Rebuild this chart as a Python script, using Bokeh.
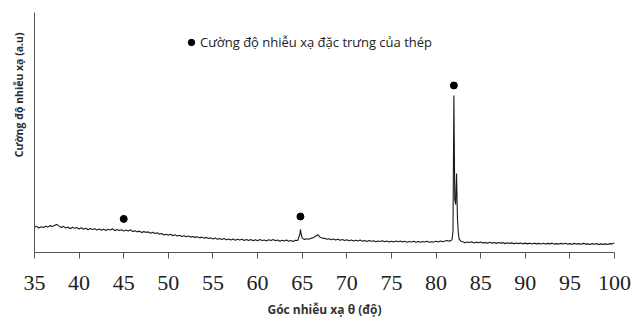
from bokeh.plotting import figure
from bokeh.models import Range1d, FixedTicker, Legend, LegendItem, Title
from bokeh.embed import file_html
from bokeh.resources import INLINE

# ---- data (diffraction scan, 0.25 degree sampling) ----
theta_start = 35.0
theta_step = 0.25
intensity = [
    10.5, 10.9, 10.2, 10.7,   # 35
    10.4, 10.9, 10.6, 11.2,   # 36
    10.8, 11.3, 11.7, 11.0,   # 37
    10.4, 10.9, 10.2, 10.6,   # 38
    9.9, 10.5, 10.1, 10.4,    # 39
    9.8, 10.3, 9.7, 10.1,     # 40
    9.5, 10.0, 9.6, 9.9,      # 41
    9.4, 9.8, 9.3, 9.7,       # 42
    9.2, 9.7, 9.4, 9.9,       # 43
    9.1, 9.6, 9.2, 9.5,       # 44
    8.9, 9.4, 9.0, 9.5,       # 45
    8.7, 9.1, 8.6, 8.9,       # 46
    8.3, 8.7, 8.4, 8.6,       # 47
    8.0, 8.4, 7.9, 8.2,       # 48
    7.6, 7.9, 7.3, 7.6,       # 49
    7.2, 7.6, 7.0, 7.4,       # 50
    6.9, 7.2, 6.7, 7.0,       # 51
    6.6, 6.9, 6.4, 6.7,       # 52
    6.3, 6.6, 6.1, 6.4,       # 53
    5.9, 6.3, 5.8, 6.1,       # 54
    5.6, 6.0, 5.5, 5.8,       # 55
    5.4, 5.8, 5.3, 5.6,       # 56
    5.2, 5.6, 5.1, 5.5,       # 57
    5.2, 5.5, 5.0, 5.4,       # 58
    5.0, 5.4, 4.9, 5.3,       # 59
    4.9, 5.4, 5.0, 5.2,       # 60
    4.8, 5.3, 5.0, 5.4,       # 61
    4.9, 5.2, 4.7, 5.1,       # 62
    4.8, 5.2, 4.7, 5.0,       # 63
    4.6, 5.1, 5.0, 7.8,       # 64
    6.0, 5.4, 5.7, 5.5,       # 65
    5.9, 6.2, 6.8, 7.4,       # 66
    6.4, 6.0, 5.9, 5.5,       # 67
    5.7, 5.3, 5.6, 5.2,       # 68
    5.5, 5.1, 5.4, 5.0,       # 69
    5.3, 4.9, 5.2, 4.8,       # 70
    5.1, 4.8, 5.2, 4.7,       # 71
    5.0, 4.6, 5.0, 4.7,       # 72
    4.9, 4.5, 4.8, 4.6,       # 73
    4.9, 4.5, 4.8, 4.4,       # 74
    4.7, 4.4, 4.8, 4.5,       # 75
    4.8, 4.4, 4.7, 4.3,       # 76
    4.6, 4.4, 4.7, 4.3,       # 77
    4.6, 4.3, 4.6, 4.4,       # 78
    4.7, 4.3, 4.5, 4.4,       # 79
    4.7, 4.4, 4.8, 4.5,       # 80
    4.8, 5.0, 4.7, 5.2,       # 81
    65.4, 27.0, 8.0, 4.9,     # 82
    4.5, 4.1, 4.4, 4.2,       # 83
    4.5, 4.0, 4.3, 4.1,       # 84
    4.4, 4.0, 4.2, 3.9,       # 85
    4.3, 3.9, 4.2, 3.8,       # 86
    4.2, 3.9, 4.1, 3.7,       # 87
    4.1, 3.8, 4.0, 3.7,       # 88
    4.0, 3.7, 4.0, 3.6,       # 89
    3.9, 3.6, 3.9, 3.5,       # 90
    3.9, 3.6, 3.8, 3.5,       # 91
    3.9, 3.5, 3.8, 3.6,       # 92
    3.9, 3.5, 3.7, 3.5,       # 93
    3.8, 3.5, 3.9, 3.4,       # 94
    3.7, 3.4, 3.8, 3.5,       # 95
    3.7, 3.4, 3.8, 3.5,       # 96
    3.6, 3.3, 3.7, 3.4,       # 97
    3.7, 3.3, 3.6, 3.4,       # 98
    3.6, 3.3, 3.7, 3.6,       # 99
    4.1,                      # 100
]
peak_theta = [64.8, 64.9, 81.8, 81.9, 82.1, 82.2, 82.3, 82.4, 82.6, 82.8]
peak_intensity = [9.6, 7.5, 5.5, 9.0, 22.0, 20.0, 32.9, 14.0, 5.5, 4.6]

marker_theta = [45.0, 64.8, 82.0]
marker_intensity = [14.0, 15.0, 69.6]

x_ticks = [35, 40, 45, 50, 55, 60, 65, 70, 75, 80, 85, 90, 95, 100]
legend_text = "Cường độ nhiễu xạ đặc trưng của thép"
x_title = "Góc nhiễu xạ θ (độ)"
y_title = "Cường độ nhiễu xạ (a.u)"

# ---- merge the sampled grid with the fine peak points ----
grid_theta = [theta_start + theta_step * i for i in range(len(intensity))]
pairs = sorted(list(zip(grid_theta, intensity)) + list(zip(peak_theta, peak_intensity)))
xs = [a for a, b in pairs]
ys = [b for a, b in pairs]

p = figure(width=631, height=320, output_backend="svg", toolbar_location=None,
           x_range=Range1d(35, 100), y_range=Range1d(0, 100),
           min_border_left=33, min_border_right=17, min_border_top=12, min_border_bottom=68)
p.background_fill_color = "white"
p.border_fill_color = "white"
p.outline_line_color = None
p.xgrid.visible = False
p.ygrid.visible = False

p.line(xs, ys, line_color="#1a1a1a", line_width=1.1)
r_mark = p.scatter(marker_theta, marker_intensity, size=7, color="black")

# x axis
xa = p.xaxis[0]
xa.ticker = FixedTicker(ticks=x_ticks)
xa.minor_tick_line_color = None
xa.major_tick_in = 0
xa.major_tick_out = 6
xa.axis_line_color = "#555555"
xa.major_tick_line_color = "#555555"
xa.major_label_text_font = "Liberation Serif"
xa.major_label_text_font_size = "22px"
xa.major_label_text_color = "#222222"
xa.major_label_standoff = 17
xa.axis_label = x_title
xa.axis_label_text_font = "Open Sans"
xa.axis_label_text_font_style = "bold"
xa.axis_label_text_font_size = "12px"
xa.axis_label_text_color = "#333333"
xa.axis_label_standoff = 8

# y axis: line only
ya = p.yaxis[0]
ya.ticker = FixedTicker(ticks=[])
ya.minor_tick_line_color = None
ya.major_tick_line_color = None
ya.major_label_text_color = None
ya.axis_line_color = "#555555"

# y title (placed toward the top, as in the reference)
p.add_layout(Title(text=y_title, align="right", offset=20, standoff=18,
                   text_font="Open Sans", text_font_style="bold",
                   text_font_size="10.5px", text_color="#2a2a2a"), "left")

legend = Legend(items=[LegendItem(label=legend_text, renderers=[r_mark], index=0)],
                location=(149, 200), orientation="vertical",
                glyph_width=16, glyph_height=16, label_standoff=1,
                padding=0, margin=0, spacing=0,
                border_line_color=None, background_fill_alpha=0,
                label_text_font="Open Sans", label_text_font_size="13px",
                label_text_color="#222222", label_height=20)
p.add_layout(legend)

open("out.html", "w").write(file_html(p, INLINE))
